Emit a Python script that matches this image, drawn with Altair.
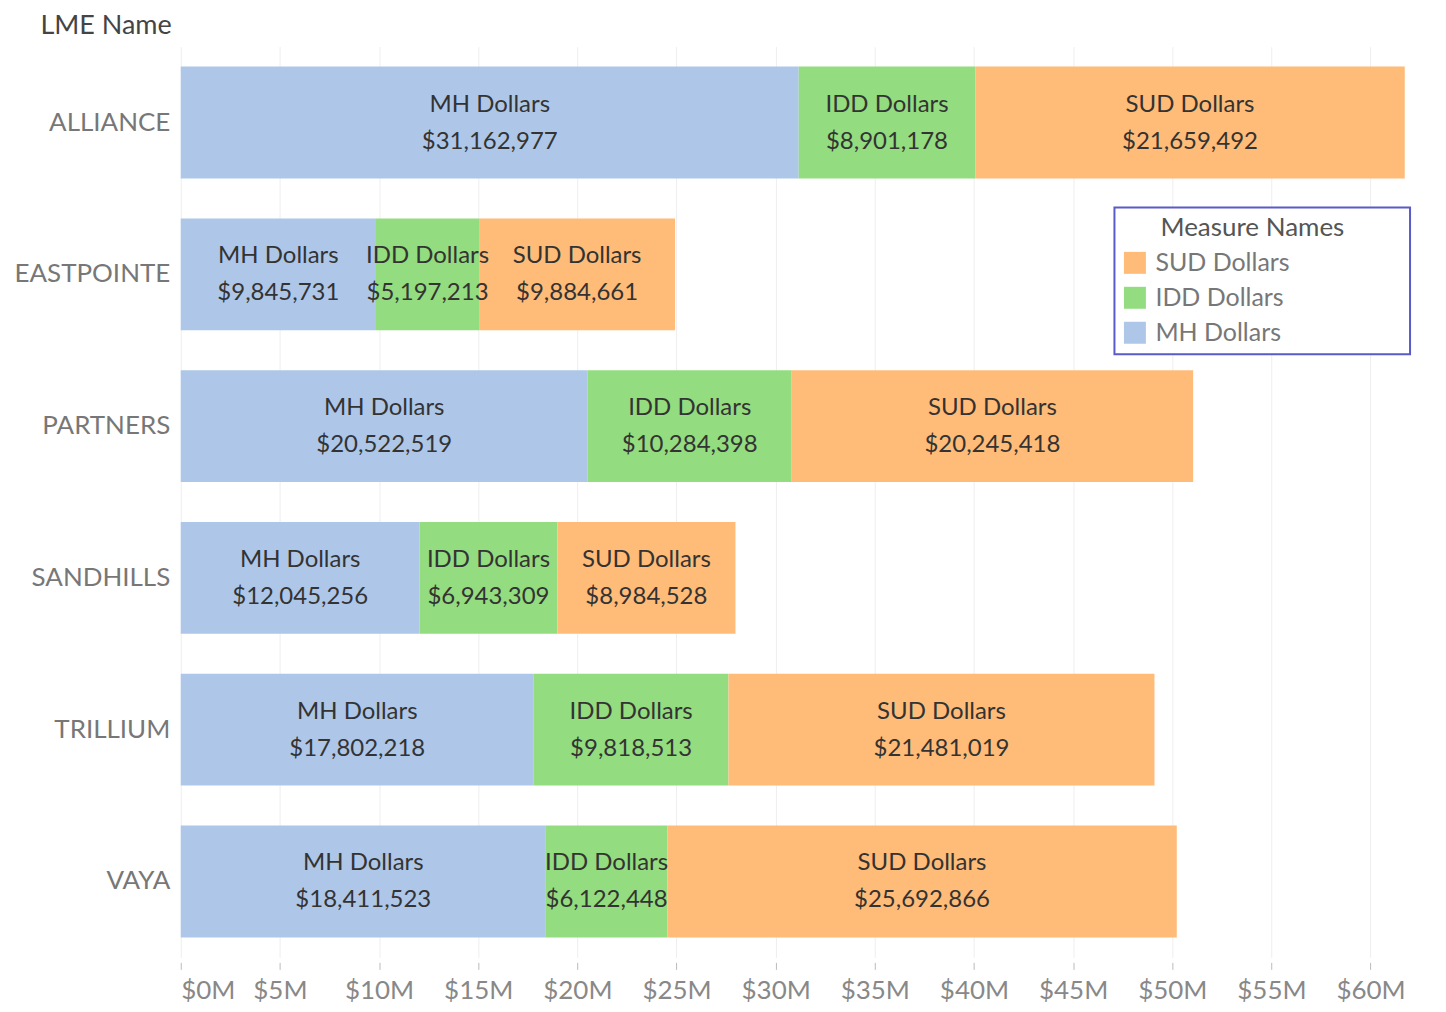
import altair as alt
import pandas as pd

lmes = ["ALLIANCE", "EASTPOINTE", "PARTNERS", "SANDHILLS", "TRILLIUM", "VAYA"]
mh = [31162977, 9845731, 20522519, 12045256, 17802218, 18411523]
idd = [8901178, 5197213, 10284398, 6943309, 9818513, 6122448]
sud = [21659492, 9884661, 20245418, 8984528, 21481019, 25692866]
measures = ["MH Dollars", "IDD Dollars", "SUD Dollars"]
legend_order = ["SUD Dollars", "IDD Dollars", "MH Dollars"]
colors = ["#ffbb78", "#93dc7f", "#aec7e8"]
tick_vals = [i * 5_000_000 for i in range(13)]

rows = []
for i, l in enumerate(lmes):
    for k, (m, vals) in enumerate(zip(measures, [mh, idd, sud])):
        rows.append({"lme": l, "measure": m, "value": vals[i], "ord": k})
df = pd.DataFrame(rows)

FONT = "Lato"
BLANK = "\u2800"

base = alt.Chart(df).transform_stack(
    stack="value", as_=["x0", "x1"], groupby=["lme"], sort=[alt.SortField("ord")]
).transform_calculate(
    mid="(datum.x0 + datum.x1) / 2",
    label="format(datum.value, '$,')",
)

y = alt.Y(
    "lme:N",
    sort=lmes,
    scale=alt.Scale(paddingInner=0.263, paddingOuter=0.1315),
    axis=alt.Axis(
        title="LME Name", titleAngle=0, titleAlign="left", titleBaseline="middle",
        titleX=-141, titleY=-21, titleFont=FONT, titleFontSize=27, titleFontWeight="normal",
        titleColor="#444444", labelFont=FONT, labelFontSize=26, labelColor="#777777",
        labelPadding=11, ticks=False, domain=False, grid=False,
    ),
)

xscale = alt.Scale(domain=[0, 63_400_000], nice=False, zero=True)

bars = base.mark_bar(size=112).encode(
    x=alt.X(
        "x0:Q", scale=xscale,
        axis=alt.Axis(
            title=None, values=tick_vals, labelExpr="'$' + datum.value/1000000 + 'M'",
            labelFont=FONT, labelFontSize=26, labelColor="#888888", labelPadding=8,
            domain=False, ticks=True, tickColor="#bbbbbb", tickSize=7, offset=5,
            grid=True, gridColor="#eeeeee", gridWidth=1,
        ),
    ),
    x2="x1:Q",
    y=y,
    color=alt.Color(
        "measure:N",
        scale=alt.Scale(domain=legend_order, range=colors),
        legend=alt.Legend(
            title=BLANK * 2 + "Measure Names" + BLANK * 3,
            orient="none", legendX=935, legendY=161,
            titleFont=FONT, titleFontSize=26, titleColor="#555555", titleFontWeight="normal",
            titleAnchor="start", titlePadding=9, titleLimit=1000,
            labelFont=FONT, labelFontSize=25, labelColor="#777777",
            symbolType="square", symbolSize=484, symbolStrokeWidth=0, symbolOpacity=1,
            rowPadding=9, labelOffset=8,
            padding=8, strokeColor="#5a5ac8", fillColor="white",
        ),
    ),
    order=alt.Order("ord:Q"),
)

t1 = base.mark_text(font=FONT, fontSize=24, color="#333333", baseline="middle", dy=-18).encode(
    x=alt.X("mid:Q", scale=xscale), y=alt.Y("lme:N", sort=lmes), text="measure:N"
)
t2 = base.mark_text(font=FONT, fontSize=24, color="#333333", baseline="middle", dy=19).encode(
    x=alt.X("mid:Q", scale=xscale), y=alt.Y("lme:N", sort=lmes), text="label:N"
)

chart = alt.layer(bars, t1, t2).properties(
    width=1259, height=912,
    autosize=alt.AutoSizeParams(type="none"),
    padding={"left": 173, "top": 38, "right": 0, "bottom": 46},
).configure_view(stroke=None).configure_legend(strokeWidth=2)

chart.save("out.html", embed_options={"renderer": "svg", "actions": False})
